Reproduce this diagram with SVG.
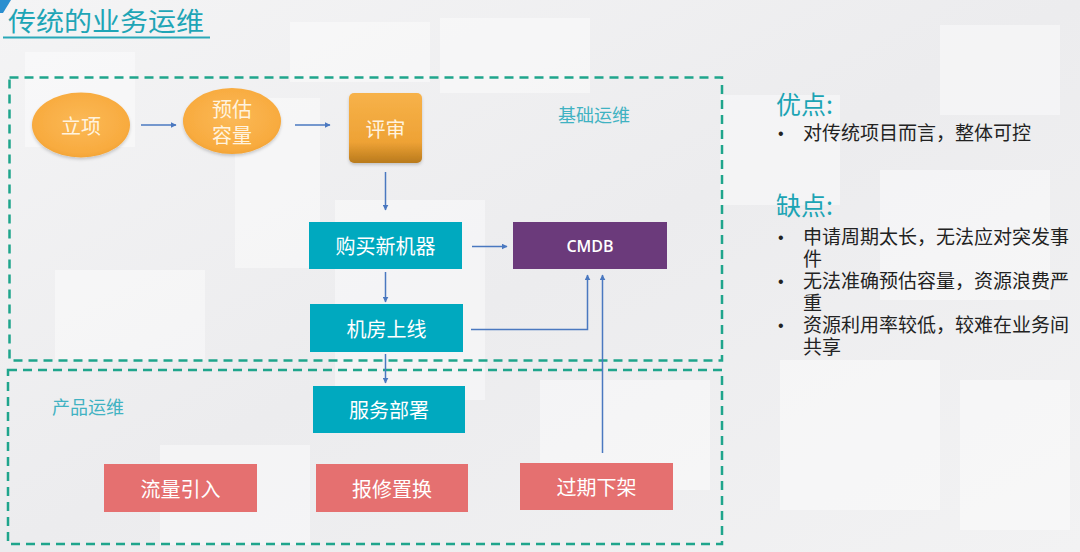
<svg xmlns="http://www.w3.org/2000/svg" width="1080" height="552" viewBox="0 0 1080 552">
<defs>
<linearGradient id="bg" x1="0" y1="0" x2="1" y2="1">
<stop offset="0" stop-color="#f4f4f5"/>
<stop offset="0.5" stop-color="#ececee"/>
<stop offset="1" stop-color="#f2f2f3"/>
</linearGradient>
<radialGradient id="ell" cx="0.5" cy="0.45" r="0.6">
<stop offset="0" stop-color="#fbb957"/>
<stop offset="0.8" stop-color="#f8ab3f"/>
<stop offset="1" stop-color="#f0a030"/>
</radialGradient>
<linearGradient id="rev" x1="0" y1="0" x2="0" y2="1">
<stop offset="0" stop-color="#f7b24a"/>
<stop offset="0.7" stop-color="#eea235"/>
<stop offset="1" stop-color="#b97a1c"/>
</linearGradient>
<marker id="ah" viewBox="0 0 10 10" refX="9" refY="5" markerWidth="6" markerHeight="6" orient="auto-start-reverse" markerUnits="userSpaceOnUse">
<path d="M0,0 L10,5 L0,10 z" fill="#4a78c0"/>
</marker>
<filter id="sh" x="-20%" y="-20%" width="140%" height="150%">
<feDropShadow dx="0" dy="2" stdDeviation="1.5" flood-color="#000" flood-opacity="0.18"/>
</filter>
</defs>
<style>
.cn{font-family:"Noto Sans CJK SC","Noto Sans",sans-serif;}
.ntxt{font-family:"Noto Sans CJK SC",sans-serif;font-size:20px;fill:#ffffff;text-anchor:middle;dominant-baseline:central;}
.otxt{font-family:"Noto Sans CJK SC",sans-serif;font-size:20px;fill:#fff3df;text-anchor:middle;dominant-baseline:central;}
.teal{fill:#00a9bf;}
.red{fill:#e57070;}
.dash{fill:none;stroke:#1fa58c;stroke-width:2.5;stroke-dasharray:9 6;}
.conn{fill:none;stroke:#4a78c0;stroke-width:1.5;}
.grp{font-family:"Noto Sans CJK SC",sans-serif;font-size:18px;fill:#40b2c2;}
.hd{font-family:"Noto Sans CJK SC",sans-serif;font-size:25px;fill:#1ba4b4;}
.bl{font-family:"Noto Sans CJK SC",sans-serif;font-size:19px;fill:#222222;}
.dot{font-family:"Liberation Sans",sans-serif;font-size:16px;fill:#222222;}
.bk{fill:#ffffff;opacity:0.42;}
</style>
<rect x="0" y="0" width="1080" height="552" fill="url(#bg)"/>
<g id="background">
<rect class="bk" x="25" y="52" width="110" height="95"/>
<rect class="bk" x="235" y="98" width="85" height="170"/>
<rect class="bk" x="290" y="22" width="140" height="60"/>
<rect class="bk" x="440" y="18" width="150" height="75"/>
<rect class="bk" x="720" y="95" width="120" height="110"/>
<rect class="bk" x="940" y="25" width="120" height="90"/>
<rect class="bk" x="880" y="170" width="170" height="130"/>
<rect class="bk" x="55" y="270" width="150" height="90"/>
<rect class="bk" x="335" y="200" width="150" height="200"/>
<rect class="bk" x="540" y="380" width="170" height="110"/>
<rect class="bk" x="780" y="360" width="160" height="150"/>
<rect class="bk" x="160" y="445" width="150" height="100"/>
<rect class="bk" x="960" y="380" width="110" height="150"/>
</g>
<g id="title">
<polygon points="0,0 11,0 3,13 0,13" fill="#2a8fd0"/>
<text x="8" y="31" class="cn" font-size="26.5" fill="#1ea5b6" textLength="196" lengthAdjust="spacingAndGlyphs">传统的业务运维</text>
<line x1="3" y1="37.5" x2="210" y2="37.5" stroke="#2aa8b8" stroke-width="2"/>
</g>
<g id="groups">
<rect id="group-basic" class="dash" x="9.5" y="77.5" width="712.5" height="283"/>
<rect id="group-product" class="dash" x="8" y="370" width="714" height="174"/>
<text class="grp" x="558" y="122">基础运维</text>
<text class="grp" x="52" y="414">产品运维</text>
</g>
<g id="connectors">
<line class="conn" x1="141" y1="125" x2="176" y2="125" marker-end="url(#ah)"/>
<line class="conn" x1="295" y1="125" x2="330" y2="125" marker-end="url(#ah)"/>
<line class="conn" x1="385.5" y1="172" x2="385.5" y2="210" marker-end="url(#ah)"/>
<line class="conn" x1="472" y1="246.5" x2="507" y2="246.5" marker-end="url(#ah)"/>
<line class="conn" x1="385.5" y1="272" x2="385.5" y2="302" marker-end="url(#ah)"/>
<polyline class="conn" points="471,329.5 587.5,329.5 587.5,275" marker-end="url(#ah)"/>
<line class="conn" x1="385.5" y1="354" x2="385.5" y2="383" marker-end="url(#ah)"/>
<line class="conn" x1="602.5" y1="453" x2="602.5" y2="275" marker-end="url(#ah)"/>
</g>
<g id="node-lixiang">
<ellipse cx="81" cy="125" rx="49" ry="32.5" fill="url(#ell)" filter="url(#sh)"/>
<text class="otxt" x="81" y="125">立项</text>
</g>
<g id="node-yugu">
<ellipse cx="232" cy="121" rx="49" ry="33" fill="url(#ell)" filter="url(#sh)"/>
<text class="otxt" x="232" y="108">预估</text>
<text class="otxt" x="232" y="134">容量</text>
</g>
<g id="node-pingshen">
<rect x="349" y="93" width="73" height="70" rx="5" fill="url(#rev)" filter="url(#sh)"/>
<text class="otxt" x="385.5" y="128">评审</text>
</g>
<g id="node-goumai">
<rect class="teal" x="309" y="222" width="153" height="47"/>
<text class="ntxt" x="385.5" y="245.5">购买新机器</text>
</g>
<g id="node-cmdb">
<rect x="513" y="222" width="154" height="47" fill="#6b3a7b"/>
<text x="590" y="246" font-family="'Open Sans',sans-serif" font-weight="600" font-size="16" fill="#ffffff" text-anchor="middle" dominant-baseline="central">CMDB</text>
</g>
<g id="node-jifang">
<rect class="teal" x="310" y="304" width="153" height="48"/>
<text class="ntxt" x="386.5" y="328">机房上线</text>
</g>
<g id="node-fuwu">
<rect class="teal" x="313" y="386" width="152" height="47"/>
<text class="ntxt" x="389" y="409.5">服务部署</text>
</g>
<g id="node-liuliang">
<rect class="red" x="104" y="464" width="153" height="48"/>
<text class="ntxt" x="180.5" y="488">流量引入</text>
</g>
<g id="node-baoxiu">
<rect class="red" x="316" y="464" width="152" height="48"/>
<text class="ntxt" x="392" y="488">报修置换</text>
</g>
<g id="node-guoqi">
<rect class="red" x="520" y="463" width="153" height="47"/>
<text class="ntxt" x="596.5" y="486.5">过期下架</text>
</g>
<g id="notes">
<text class="hd" x="776" y="114">优点:</text>
<text class="dot" x="778" y="139">•</text>
<text class="bl" x="803" y="140">对传统项目而言，整体可控</text>
<text class="hd" x="776" y="215">缺点:</text>
<text class="dot" x="778" y="243">•</text>
<text class="dot" x="778" y="287">•</text>
<text class="dot" x="778" y="331">•</text>
<text class="bl"><tspan x="803" y="244">申请周期太长，无法应对突发事</tspan><tspan x="803" y="266">件</tspan><tspan x="803" y="288">无法准确预估容量，资源浪费严</tspan><tspan x="803" y="310">重</tspan><tspan x="803" y="332">资源利用率较低，较难在业务间</tspan><tspan x="803" y="354">共享</tspan></text>
</g>
</svg>
